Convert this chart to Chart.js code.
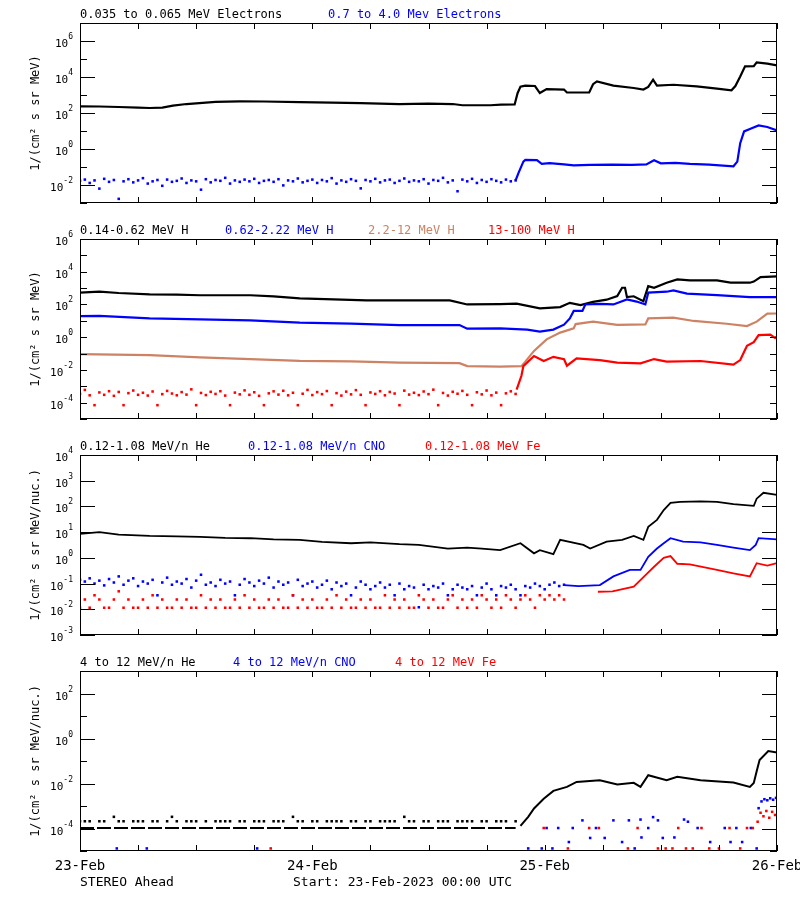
<!DOCTYPE html>
<html>
<head>
<meta charset="utf-8">
<script src="https://cdn.jsdelivr.net/npm/chart.js@4.4.1/dist/chart.umd.min.js"></script>
<style>
    body { margin: 0; background: #fff; width: 800px; height: 900px; position: relative; overflow: hidden; }
    canvas { position: absolute; left: 0; }
</style>
</head>
<body>
<canvas id="p1" width="800" height="220" style="top:0px"></canvas>
<canvas id="p2" width="800" height="217" style="top:220px"></canvas>
<canvas id="p3" width="800" height="216" style="top:437px"></canvas>
<canvas id="p4" width="800" height="247" style="top:653px"></canvas>
<script>
// hours since 23-Feb-2023 00:00 UTC
const dayHours  = [0, 24, 48, 72];
const dayLabels = ['23-Feb', '24-Feb', '25-Feb', '26-Feb'];

const BLACK = '#000000', BLUE = '#0000ff', TAN = 'rgb(205,130,100)', RED = '#ff0000';

// ---- panel 1 : electrons
const e035Hours = [0,2,4,6,7.2,8.5,9.6,11,14,16.5,19,22.7,26,29,33,36,38.5,39.5,42.4,43.5,44.9,45.2,45.5,46,47,47.5,48.2,50,50.3,52.6,53,53.4,55.1,57.2,58.2,58.7,59.2,59.6,61.3,63.7,65.8,67.3,67.7,68.2,68.7,69.6,69.9,71,72];
const e035Flux  = [235,230,215,200,190,200,255,315,410,445,435,400,380,355,315,330,315,270,270,295,300,1260,2900,3300,3160,1290,2140,2000,1380,1380,4000,5750,3300,2450,2000,2800,7080,3300,3700,3000,2240,1820,3160,10700,38900,39800,64600,55000,44700];

// 0.7-4.0 MeV, quiet period 0..45 h every half hour
const e07Quiet = [
    0.017,0.02,0.013,0.018,0.0063,0.022,0.015,0.019,0.0017,0.016,
    0.021,0.014,0.018,0.024,0.012,0.016,0.019,0.009,0.02,0.015,
    0.017,0.023,0.013,0.018,0.016,0.0055,0.021,0.014,0.019,0.017,
    0.025,0.012,0.018,0.015,0.02,0.016,0.022,0.013,0.017,0.019,
    0.015,0.021,0.0095,0.018,0.016,0.023,0.014,0.017,0.02,0.013,
    0.019,0.016,0.024,0.012,0.018,0.015,0.021,0.017,0.0065,0.019,
    0.016,0.022,0.014,0.018,0.02,0.013,0.017,0.023,0.015,0.018,
    0.016,0.021,0.012,0.019,0.017,0.025,0.014,0.018,0.0045,0.02,
    0.016,0.022,0.013,0.019,0.015,0.021,0.017,0.014,0.02,0.016,
    0.018];
const e07EventHours = [45,45.3,45.8,46,47.2,47.7,48.5,50,51,52.7,55,57,58.5,59.3,60,61.5,63,65,67.5,67.9,68.2,68.6,69.2,70.1,71,72];
const e07EventFlux  = [0.018,0.047,0.2,0.25,0.24,0.15,0.166,0.14,0.123,0.13,0.135,0.13,0.14,0.235,0.16,0.17,0.15,0.135,0.11,0.2,2.1,9.5,12.9,20.4,16.6,10.7];

// ---- panel 2 : protons
const h014Hours = [0,2,4,7.2,10,12.4,17.6,20,22.7,26.2,29.6,33,38.2,40,43.4,45.1,47.5,49.6,50.6,51.7,53,54.4,55.5,56,56.3,56.5,57.2,58.2,58.7,59.3,60.6,61.7,63,65.8,67.2,69.2,69.6,70.3,72];
const h014Flux  = [525,600,500,415,400,365,365,315,235,205,178,178,178,100,105,112,58,69,126,91,145,195,324,1050,1050,280,316,158,1320,1050,2140,3390,2950,2950,2140,2140,2510,4680,5130];

const h062Hours = [0,2,7.2,12.4,17.6,22.7,28,33,39.2,40,43.4,46.2,47.5,48.9,50,50.6,51,51.9,52.2,53.7,55.1,56.5,57.5,58.4,58.7,60.6,61.3,62.7,65.8,69.2,72];
const h062Flux  = [19.5,20,14,12.3,10.7,7.8,6.8,5.5,5.5,3.3,3.5,2.9,2.2,2.9,5.8,14,40,40,100,110,100,204,150,100,525,600,725,457,372,282,282];

const h22Hours = [0,7.2,12.4,17.6,22.7,28,33,39.2,40,43.4,45.6,46,46.9,48.2,49.6,51,51.2,53,55.5,58.4,58.7,61.3,63.4,66.8,68.9,69.9,71,72];
const h22Flux  = [0.091,0.079,0.058,0.046,0.036,0.033,0.028,0.026,0.017,0.016,0.017,0.032,0.145,0.74,1.9,3.5,6.3,8.9,5.6,6,14,15.5,9.8,6.6,4.8,8.9,27.5,28];

// 13-100 MeV, quiet period 0..45 h every half hour
const h13Quiet = [
    3.5e-4,6e-4,2.8e-4,7e-5,4.2e-4,3e-4,5e-4,2.6e-4,4.5e-4,7e-5,
    3.8e-4,5.5e-4,3e-4,4e-4,2.7e-4,4.8e-4,7e-5,3.3e-4,5.2e-4,3.6e-4,
    2.8e-4,4.4e-4,3.1e-4,6.5e-4,7e-5,3.9e-4,2.9e-4,4.6e-4,3.4e-4,5e-4,
    2.7e-4,7e-5,4.1e-4,3.2e-4,5.6e-4,3e-4,4.3e-4,2.6e-4,7e-5,3.7e-4,
    4.9e-4,3.1e-4,5.3e-4,2.8e-4,4e-4,7e-5,3.5e-4,6e-4,2.9e-4,4.4e-4,
    3.3e-4,5.1e-4,7e-5,3.8e-4,2.7e-4,4.7e-4,3.2e-4,5.8e-4,3e-4,7e-5,
    4.2e-4,3.4e-4,5e-4,2.8e-4,4.5e-4,3.6e-4,7e-5,5.4e-4,3.1e-4,4e-4,
    2.9e-4,4.8e-4,3.3e-4,6.2e-4,7e-5,3.9e-4,2.7e-4,4.6e-4,3.5e-4,5.2e-4,
    3e-4,7e-5,4.3e-4,3.2e-4,5.5e-4,2.8e-4,4.1e-4,7e-5,3.7e-4,4.9e-4,
    3.4e-4];
const h13EventHours = [45.1,45.6,45.8,46.9,47.9,48.9,50,50.3,51.3,53.7,55.5,57.9,59.3,60.6,64.1,67.5,68.2,68.9,69.6,70.1,71.3,71.8,72];
const h13EventFlux  = [6.3e-4,4.4e-3,0.017,0.071,0.035,0.063,0.045,0.018,0.051,0.04,0.028,0.025,0.046,0.032,0.035,0.021,0.04,0.3,0.5,1.35,1.45,0.9,1.1];

// ---- panel 3 : 0.12-1.08 MeV/n ions
const he012Hours = [0,2,4,7.2,10,12.4,15,17.6,20,22.7,25,28,30,33,35,38,40,41.5,43.4,45.5,46.9,47.5,48.9,49.6,52,52.7,54.4,56,57.2,58.2,58.7,59.6,60.3,61,62,64.1,65.8,67.5,69.6,69.9,70.6,72];
const he012Flux  = [8.5,10,8,7.1,6.8,6.6,6,5.8,5.2,5,4.2,3.7,4,3.4,3.2,2.3,2.5,2.3,2.0,3.7,1.5,2.0,1.4,5,3.2,2.3,4.3,5,7.1,5,16,30,72,138,150,158,150,123,105,200,340,280];

// quiet period 0..50 h every half hour
const cnoQuiet = [
    0.14,0.12,0.16,0.1,0.13,0.085,0.15,0.11,0.19,0.09,
    0.13,0.16,0.08,0.12,0.1,0.14,0.035,0.11,0.17,0.09,
    0.12,0.1,0.15,0.07,0.13,0.22,0.09,0.11,0.08,0.14,
    0.1,0.12,0.035,0.09,0.15,0.11,0.08,0.13,0.1,0.17,
    0.07,0.12,0.09,0.11,0.035,0.14,0.08,0.1,0.12,0.07,
    0.09,0.13,0.06,0.11,0.08,0.1,0.035,0.07,0.12,0.09,
    0.06,0.08,0.11,0.07,0.09,0.035,0.1,0.06,0.08,0.07,
    0.012,0.09,0.06,0.08,0.07,0.1,0.035,0.06,0.09,0.07,
    0.06,0.08,0.035,0.07,0.1,0.06,0.035,0.08,0.07,0.09,
    0.06,0.035,0.08,0.07,0.1,0.08,0.06,0.09,0.11,0.08,
    0.09];
const feQuiet = [
    0.0115,0.024,0.0115,0.035,0.024,0.0115,0.0115,0.024,0.05,0.0115,
    0.024,0.0115,0.0115,0.024,0.0115,0.035,0.0115,0.024,0.0115,0.0115,
    0.024,0.0115,0.024,0.0115,0.0115,0.035,0.0115,0.024,0.0115,0.024,
    0.0115,0.0115,0.024,0.0115,0.035,0.0115,0.024,0.0115,0.0115,0.024,
    0.0115,0.024,0.0115,0.0115,0.035,0.0115,0.024,0.0115,0.024,0.0115,
    0.0115,0.024,0.0115,0.035,0.0115,0.024,0.0115,0.0115,0.024,0.0115,
    0.024,0.0115,0.0115,0.035,0.0115,0.024,0.0115,0.024,0.0115,0.0115,
    0.035,0.024,0.0115,0.024,0.0115,0.0115,0.024,0.035,0.0115,0.024,
    0.0115,0.024,0.0115,0.035,0.024,0.0115,0.024,0.0115,0.035,0.024,
    0.0115,0.024,0.035,0.024,0.0115,0.035,0.024,0.035,0.024,0.035,
    0.024];
const cnoEventHours = [50,51.5,53.7,55.1,56.8,57.9,58.7,59.6,60.3,61,62.3,64.1,65.8,67.5,69.2,69.8,70.1,72];
const cnoEventFlux  = [0.087,0.08,0.087,0.19,0.34,0.34,1.1,2.3,3.7,5.8,4.3,4,3.2,2.5,2,3.2,5.8,5.2];
const feEventHours = [53.5,55,57.2,58.6,59.3,60.3,61,61.7,63,65.8,67.5,69.2,69.9,71,72];
const feEventFlux  = [0.048,0.05,0.076,0.25,0.45,1.0,1.17,0.59,0.56,0.34,0.25,0.19,0.62,0.5,0.63];

// ---- panel 4 : 4-12 MeV/n ions
const he4LowHours = [0,3,6,9,12,15,18,21,24,27,30,33,36,39,42,45];
const he4LowFlux  = [1.05e-4,1.05e-4,1.05e-4,1.05e-4,1.05e-4,1.05e-4,1.05e-4,1.05e-4,1.05e-4,1.05e-4,1.05e-4,1.05e-4,1.05e-4,1.05e-4,1.05e-4,1.05e-4];
// one-count level, 0..45 h every half hour (null = no sample at that level)
const he4High = [
    2.1e-4,2.1e-4,2.1e-4,null,2.1e-4,2.1e-4,null,3.3e-4,2.1e-4,2.1e-4,
    null,2.1e-4,2.1e-4,2.1e-4,null,2.1e-4,2.1e-4,null,2.1e-4,3.3e-4,
    2.1e-4,null,2.1e-4,2.1e-4,2.1e-4,null,2.1e-4,null,2.1e-4,2.1e-4,
    2.1e-4,2.1e-4,null,2.1e-4,2.1e-4,null,2.1e-4,2.1e-4,2.1e-4,null,
    2.1e-4,2.1e-4,2.1e-4,null,3.3e-4,2.1e-4,2.1e-4,null,2.1e-4,2.1e-4,
    null,2.1e-4,2.1e-4,2.1e-4,2.1e-4,null,2.1e-4,2.1e-4,null,2.1e-4,
    2.1e-4,null,2.1e-4,2.1e-4,2.1e-4,2.1e-4,null,3.3e-4,2.1e-4,2.1e-4,
    null,2.1e-4,2.1e-4,null,2.1e-4,2.1e-4,2.1e-4,null,2.1e-4,2.1e-4,
    2.1e-4,2.1e-4,null,2.1e-4,2.1e-4,null,2.1e-4,2.1e-4,2.1e-4,null,
    2.1e-4];
const he4EventHours = [45.5,46.3,46.9,47.9,48.9,50.3,51.3,53.7,55.5,57.2,57.9,58.7,60.6,61.7,64.1,67.5,69.2,69.6,69.9,70.2,71.1,72];
const he4EventFlux  = [1.3e-4,3.3e-4,7.8e-4,2.1e-3,4.7e-3,7.1e-3,0.0117,0.014,0.0091,0.0107,0.0071,0.0234,0.014,0.02,0.014,0.011,0.0071,0.0105,0.035,0.11,0.275,0.24];

const cno4Hours = [3.8,6.9,18.3,46.3,47.7,48.2,48.8,49.4,50.5,50.9,51.9,52.7,53.3,54.2,55.1,56,56.7,57.3,57.9,58,58.7,59.2,59.7,60.2,61.4,62.4,62.8,63.8,65.1,66.6,67.2,67.8,68.4,69.3,69.9,70.1,70.4,70.7,71,71.3,71.6,71.9];
const cno4Flux  = [1.3e-5,1.3e-5,1.3e-5,1.3e-5,1.3e-5,1.05e-4,1.3e-5,1.05e-4,2.5e-5,1.05e-4,2.3e-4,3.8e-5,1.05e-4,3.8e-5,2.3e-4,2.5e-5,2.3e-4,1.3e-5,2.5e-4,4e-5,1.05e-4,3.2e-4,2.3e-4,3.8e-5,4e-5,2.5e-4,2e-4,1.05e-4,2.5e-5,1.05e-4,2.5e-5,1.05e-4,2.5e-5,1.05e-4,1.3e-5,8e-4,1.6e-3,2e-3,1.8e-3,2.2e-3,1.9e-3,2.3e-3];
const fe4Hours = [19.7,47.9,50.4,52.6,53.6,56.6,57.6,59.7,60.5,61.2,61.8,62.6,63.3,64.2,65,66,67.1,68.2,68.9,69.5,70,70.3,70.6,70.9,71.2,71.5,71.8];
const fe4Flux  = [1.3e-5,1.05e-4,1.3e-5,1.05e-4,1.05e-4,1.3e-5,1.05e-4,1.3e-5,1.3e-5,1.3e-5,1.05e-4,1.3e-5,1.3e-5,1.05e-4,1.3e-5,1.3e-5,1.05e-4,1.3e-5,1.05e-4,1.05e-4,2e-4,5e-4,3.5e-4,6e-4,3e-4,5.5e-4,4e-4];


const FONT = '"DejaVu Sans Mono", monospace';

function halfHourSteps(vals) {
    return vals.map((v, i) => i * 0.5);
}

function pts(hours, vals) {
    return hours.map((h, i) => ({ x: h, y: vals[i] })).filter(p => p.y != null);
}

function lineSet(hours, vals, color, order, width) {
    return {
        data: pts(hours, vals),
        showLine: true,
        borderColor: color,
        borderWidth: width || 2,
        pointRadius: 0,
        order: order
    };
}

function dotSet(hours, vals, color, order) {
    return {
        data: pts(hours, vals),
        showLine: false,
        pointStyle: 'rect',
        pointRadius: 1.8,
        pointBorderWidth: 0,
        backgroundColor: color,
        borderColor: color,
        order: order
    };
}

// IDL style frame: inward ticks on all sides, 10^n labels, titles
const idlFrame = {
    id: 'idlFrame',
    afterDraw(chart, args, opts) {
        const { ctx, chartArea: a } = chart;
        const x = chart.scales.x, y = chart.scales.y;
        ctx.save();
        ctx.strokeStyle = '#000';
        ctx.lineWidth = 1;
        ctx.strokeRect(a.left + 0.5, a.top + 0.5, a.right - a.left - 1, a.bottom - a.top - 1);

        ctx.beginPath();
        for (let h = 0; h <= 72; h += 6) {
            const px = Math.round(x.getPixelForValue(h)) + 0.5;
            ctx.moveTo(px, a.bottom); ctx.lineTo(px, a.bottom - 6);
            ctx.moveTo(px, a.top);    ctx.lineTo(px, a.top + 6);
        }
        for (let e = opts.minExp; e <= opts.maxExp; e++) {
            const py = Math.round(y.getPixelForValue(Math.pow(10, e))) + 0.5;
            const len = (e % opts.labelEvery === 0) ? opts.majorLen : opts.minorLen;
            ctx.moveTo(a.left, py);  ctx.lineTo(a.left + len, py);
            ctx.moveTo(a.right, py); ctx.lineTo(a.right - len, py);
        }
        ctx.stroke();

        // y tick labels
        ctx.fillStyle = '#000';
        ctx.textBaseline = 'alphabetic';
        ctx.textAlign = 'left';
        for (let e = opts.minExp; e <= opts.maxExp; e++) {
            if (e % opts.labelEvery !== 0) continue;
            const py = y.getPixelForValue(Math.pow(10, e));
            const sup = String(e);
            ctx.font = '8px ' + FONT;
            const ws = ctx.measureText(sup).width;
            ctx.font = '11px ' + FONT;
            const wb = ctx.measureText('10').width;
            const right = a.left - 7;
            ctx.fillText('10', right - ws - wb, py + 6);
            ctx.font = '8px ' + FONT;
            ctx.fillText(sup, right - ws, py - 2);
        }

        // y axis title
        ctx.save();
        ctx.font = '12px ' + FONT;
        ctx.textAlign = 'center';
        ctx.translate(39, (a.top + a.bottom) / 2);
        ctx.rotate(-Math.PI / 2);
        ctx.fillText(opts.yTitle, 0, 0);
        ctx.restore();

        // panel titles
        ctx.font = '12px ' + FONT;
        ctx.textAlign = 'left';
        opts.titles.forEach(t => {
            ctx.fillStyle = t.color;
            ctx.fillText(t.text, t.x, a.top - 5);
        });

        // time axis labels on the bottom panel
        if (opts.showDates) {
            ctx.fillStyle = '#000';
            ctx.font = '14px ' + FONT;
            ctx.textAlign = 'center';
            dayHours.forEach((h, i) => {
                ctx.fillText(dayLabels[i], x.getPixelForValue(h), a.bottom + 19);
            });
            ctx.font = '13px ' + FONT;
            ctx.textAlign = 'left';
            opts.footer.forEach(f => ctx.fillText(f.text, f.x, a.bottom + 35));
        }
        ctx.restore();
    }
};

function makePanel(id, cfg, datasets) {
    new Chart(document.getElementById(id), {
        type: 'scatter',
        data: { datasets: datasets },
        options: {
            responsive: false,
            animation: false,
            devicePixelRatio: 1,
            events: [],
            layout: { padding: { left: 80, right: 23, top: cfg.padTop, bottom: cfg.padBottom } },
            scales: {
                x: { type: 'linear', min: 0, max: 72, display: false },
                y: { type: 'logarithmic', min: Math.pow(10, cfg.minExp), max: Math.pow(10, cfg.maxExp), display: false }
            },
            plugins: {
                legend: { display: false },
                tooltip: { enabled: false },
                idlFrame: cfg
            }
        },
        plugins: [idlFrame]
    });
}

makePanel('p1', {
    padTop: 23, padBottom: 17, minExp: -3, maxExp: 7, labelEvery: 2, majorLen: 15, minorLen: 7,
    yTitle: '1/(cm² s sr MeV)',
    titles: [
        { text: '0.035 to 0.065 MeV Electrons', color: BLACK, x: 80 },
        { text: '0.7 to 4.0 Mev Electrons', color: BLUE, x: 328 }
    ]
}, [
    lineSet(e035Hours, e035Flux, BLACK, 2, 2.2),
    dotSet(halfHourSteps(e07Quiet), e07Quiet, BLUE, 1),
    lineSet(e07EventHours, e07EventFlux, BLUE, 1, 2.2)
]);

makePanel('p2', {
    padTop: 19, padBottom: 18, minExp: -5, maxExp: 6, labelEvery: 2, majorLen: 7, minorLen: 7,
    yTitle: '1/(cm² s sr MeV)',
    titles: [
        { text: '0.14-0.62 MeV H', color: BLACK, x: 80 },
        { text: '0.62-2.22 MeV H', color: BLUE, x: 225 },
        { text: '2.2-12 MeV H', color: TAN, x: 368 },
        { text: '13-100 MeV H', color: RED, x: 488 }
    ]
}, [
    lineSet(h014Hours, h014Flux, BLACK, 4, 2.2),
    lineSet(h062Hours, h062Flux, BLUE, 3, 2.2),
    lineSet(h22Hours, h22Flux, TAN, 2, 2.2),
    dotSet(halfHourSteps(h13Quiet), h13Quiet, RED, 1),
    lineSet(h13EventHours, h13EventFlux, RED, 1, 2.2)
]);

makePanel('p3', {
    padTop: 18, padBottom: 18, minExp: -3, maxExp: 4, labelEvery: 1, majorLen: 15, minorLen: 15,
    yTitle: '1/(cm² s sr MeV/nuc.)',
    titles: [
        { text: '0.12-1.08 MeV/n He', color: BLACK, x: 80 },
        { text: '0.12-1.08 MeV/n CNO', color: BLUE, x: 248 },
        { text: '0.12-1.08 MeV Fe', color: RED, x: 425 }
    ]
}, [
    lineSet(he012Hours, he012Flux, BLACK, 3, 1.8),
    dotSet(halfHourSteps(cnoQuiet), cnoQuiet, BLUE, 2),
    lineSet(cnoEventHours, cnoEventFlux, BLUE, 2, 1.8),
    dotSet(halfHourSteps(feQuiet), feQuiet, RED, 1),
    lineSet(feEventHours, feEventFlux, RED, 1, 1.8)
]);

makePanel('p4', {
    padTop: 18, padBottom: 49, minExp: -5, maxExp: 3, labelEvery: 2, majorLen: 15, minorLen: 7,
    yTitle: '1/(cm² s sr MeV/nuc.)',
    titles: [
        { text: '4 to 12 MeV/n He', color: BLACK, x: 80 },
        { text: '4 to 12 MeV/n CNO', color: BLUE, x: 233 },
        { text: '4 to 12 MeV Fe', color: RED, x: 395 }
    ],
    showDates: true,
    footer: [
        { text: 'STEREO Ahead', x: 80 },
        { text: 'Start: 23-Feb-2023 00:00 UTC', x: 293 }
    ]
}, [
    { ...lineSet(he4LowHours, he4LowFlux, BLACK, 3, 2), borderDash: [14, 3] },
    dotSet(halfHourSteps(he4High), he4High, BLACK, 3),
    lineSet(he4EventHours, he4EventFlux, BLACK, 3, 2),
    dotSet(cno4Hours, cno4Flux, BLUE, 2),
    dotSet(fe4Hours, fe4Flux, RED, 1)
]);
</script>
</body>
</html>
